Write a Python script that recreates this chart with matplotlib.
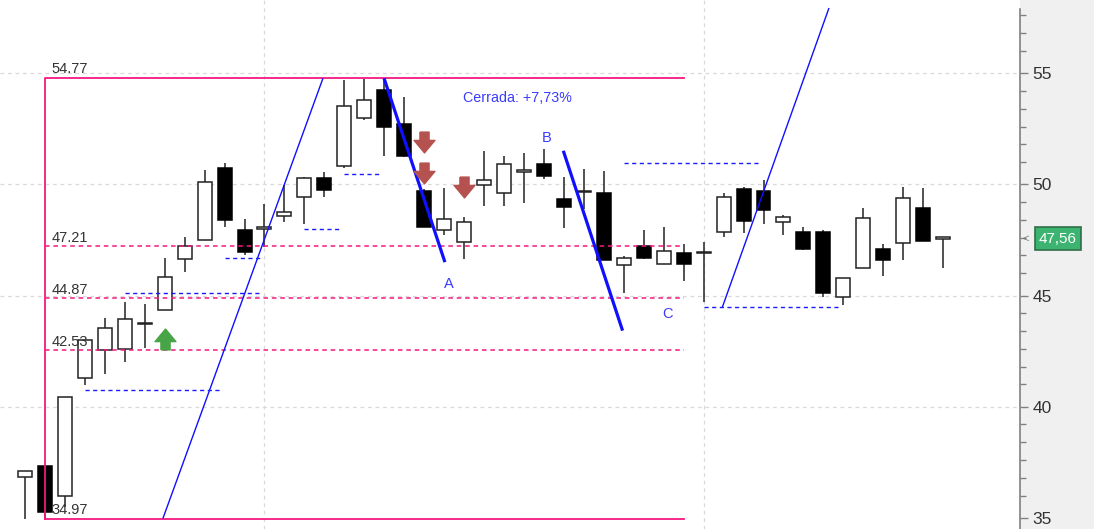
import numpy as np
import matplotlib
matplotlib.use('Agg')
import matplotlib.pyplot as plt
from matplotlib.path import Path
from matplotlib.transforms import blended_transform_factory

plt.rcParams['font.family'] = ['Liberation Sans', 'DejaVu Sans']

# candle data (index = trading day)
opens = [36.84, 37.34, 35.98, 41.30, 42.53, 42.60, 43.70, 44.33, 46.64, 47.50,
         50.72, 47.95, 47.98, 48.59, 49.44, 50.27, 50.83, 52.97, 54.24, 52.70,
         49.72, 47.95, 47.42, 49.96, 49.60, 50.57, 50.90, 49.34, 49.64, 49.60,
         46.37, 47.24, 46.42, 46.93, 46.90, 47.84, 49.78, 49.72, 48.29, 47.87,
         47.87, 44.95, 46.25, 47.07, 47.35, 48.92, 47.56]
highs = [37.11, 37.34, 40.45, 43.00, 43.97, 44.72, 44.60, 46.68, 47.63, 50.65,
         50.97, 48.43, 49.12, 49.97, 50.34, 50.57, 54.69, 54.72, 54.77, 53.94,
         49.80, 49.85, 48.54, 51.51, 51.28, 51.39, 51.58, 50.34, 50.68, 50.60,
         46.78, 47.95, 48.07, 47.32, 47.42, 49.60, 49.87, 50.20, 48.62, 48.09,
         47.95, 45.77, 48.92, 47.32, 49.89, 49.85, 47.56]
lows = [34.95, 34.97, 35.50, 40.97, 41.47, 42.02, 42.63, 44.33, 46.06, 47.50,
        48.07, 46.80, 47.17, 48.32, 48.22, 49.44, 50.72, 52.89, 51.29, 51.24,
        48.07, 47.72, 46.63, 49.03, 49.03, 49.15, 50.24, 48.02, 48.90, 46.60,
        45.13, 46.63, 46.42, 45.66, 44.69, 47.64, 47.83, 48.22, 47.72, 47.05,
        44.95, 44.57, 46.25, 45.88, 46.60, 47.47, 46.22]
closes = [37.11, 35.26, 40.45, 42.98, 43.52, 43.96, 43.72, 45.82, 47.23, 50.09,
          48.40, 46.97, 48.09, 48.74, 50.27, 49.75, 53.54, 53.79, 52.59, 51.29,
          48.07, 48.43, 48.29, 50.20, 50.90, 50.57, 50.39, 48.97, 49.64, 46.60,
          46.70, 46.67, 47.00, 46.42, 46.90, 49.44, 48.35, 48.85, 48.54, 47.09,
          45.10, 45.77, 48.47, 46.60, 49.40, 47.47, 47.56]

# range box (fibonacci style levels)
box_start, box_end = 1, 33
box_high, box_low = 54.77, 34.97
inner_levels = [47.21, 44.87, 42.53]
level_labels = ['54.77', '47.21', '44.87', '42.53', '34.97']

# trend lines: x pairs / y pairs
trend_x = [[6.91, 14.93], [17.99, 21.04], [26.97, 29.94], [34.94, 40.28]]
trend_y = [[34.97, 54.77], [54.77, 46.50], [51.51, 43.42], [44.48, 57.93]]
trend_w = [1.0, 2.3, 2.3, 1.0]

# dashed blue support/resistance segments
seg_x0 = [3, 5, 10, 14, 16, 30, 34]
seg_x1 = [9.8, 11.8, 11.85, 15.85, 17.85, 36.8, 40.85]
seg_y = [40.75, 45.13, 46.69, 47.98, 50.46, 50.97, 44.47]

# signals
sell_x = [20, 20, 22]
sell_y = [51.90, 50.51, 49.86]
buy_x = [7]
buy_y = [43.04]

wave_labels = ['A', 'B', 'C']
wave_x = [21.24, 26.15, 32.2]
wave_y = [45.54, 52.08, 44.16]

last_price = 47.56

fig = plt.figure(figsize=(10.94, 5.29), dpi=100)
fig.patch.set_facecolor('#f0f0f0')
ax = fig.add_axes([0, 0, 1020 / 1094, 1])
ax.set_facecolor('white')

# grid
for gy in [40, 45, 50, 55]:
    ax.axhline(gy, color='#d9d9d9', lw=0.9, dashes=(3, 3), zorder=0)
for gx in [12, 34]:
    ax.axvline(gx, color='#d9d9d9', lw=0.9, dashes=(3, 3), zorder=0)

# candles
x = np.arange(len(opens))
o = np.array(opens)
c = np.array(closes)
ax.vlines(x, lows, highs, color='#222222', lw=1.1, zorder=2)
up = c >= o
bottoms = np.minimum(o, c)
heights = np.maximum(np.abs(c - o), 0.07)
ax.bar(x[up], heights[up], bottom=bottoms[up], width=0.7, facecolor='white',
       edgecolor='#222222', linewidth=1.1, zorder=3)
ax.bar(x[~up], heights[~up], bottom=bottoms[~up], width=0.7, facecolor='black',
       edgecolor='black', linewidth=1.1, zorder=3)

# pink range box
pink = '#f5187f'
ax.plot([box_start, box_start, box_end], [box_low, box_high, box_high], color=pink, lw=1.3, zorder=4)
ax.plot([box_start, box_end], [box_low, box_low], color=pink, lw=1.3, zorder=4)
for lv in inner_levels:
    ax.plot([box_start, box_end], [lv, lv], color=pink, lw=1.1, dashes=(3, 2.5), zorder=4)
for lab, lv in zip(level_labels, [box_high] + inner_levels + [box_low]):
    ax.text(box_start + 0.33, lv + 0.08, lab, fontsize=10.5, color='#333333',
            ha='left', va='bottom', zorder=5)

# blue trend lines
for tx, ty, w in zip(trend_x, trend_y, trend_w):
    ax.plot(tx, ty, color='#1010ff', lw=w, zorder=6, clip_on=False,
            solid_capstyle='butt')

for x0, x1, yv in zip(seg_x0, seg_x1, seg_y):
    ax.plot([x0, x1], [yv, yv], color='#1a1aff', lw=1.0, dashes=(3, 2.5), zorder=6)

# arrows
down_arrow = Path([(-0.22, 0.5), (0.22, 0.5), (0.22, 0.1), (0.5, 0.1), (0, -0.5),
                   (-0.5, 0.1), (-0.22, 0.1), (-0.22, 0.5)])
up_arrow = Path([(vx, -vy) for vx, vy in down_arrow.vertices])
ax.plot(sell_x, sell_y, ls='none', marker=down_arrow, markersize=15,
        color='#b5524f', zorder=7)
ax.plot(buy_x, buy_y, ls='none', marker=up_arrow, markersize=15,
        color='#47a447', zorder=7)

for lab, wx, wy in zip(wave_labels, wave_x, wave_y):
    ax.text(wx, wy, lab, fontsize=10.5, color='#3a3aff', ha='center', va='center', zorder=7)
ax.text(24.65, 53.88, 'Cerrada: +7,73%', fontsize=10.3, color='#3a3aff',
        ha='center', va='center', zorder=7)

# right axis
for side in ['left', 'top', 'bottom']:
    ax.spines[side].set_visible(False)
ax.spines['right'].set_color('#808080')
ax.spines['right'].set_linewidth(1.2)
ax.spines['right'].set_bounds(34.5, 57.9)
ax.set_xticks([])
ax.yaxis.tick_right()
ax.set_yticks([35, 40, 45, 50, 55])
ax.set_yticks([m - 0.8 * k for m in range(35, 65, 5) for k in range(1, 6)], minor=True)
ax.tick_params(axis='y', which='major', length=6, width=1, color='#808080',
               labelsize=12.5, labelcolor='#333333', pad=3)
ax.tick_params(axis='y', which='minor', length=4, width=1, color='#808080')

# limits last, set_yticks would widen them otherwise
ax.set_xlim(-1.25, 49.85)
ax.set_ylim(34.50, 58.29)

# last price tag
tr = blended_transform_factory(fig.transFigure, ax.transData)
fig.text(1058 / 1094, last_price, '47,56', transform=tr, fontsize=11, color='white',
         ha='center', va='center',
         bbox=dict(boxstyle='square,pad=0.28', fc='#3cb371', ec='#2f6f4a', lw=1.2))
fig.text(1026 / 1094, last_price, '<', transform=tr, fontsize=8, color='#777777',
         ha='center', va='center')

fig.savefig('out.png', dpi=100, facecolor=fig.get_facecolor())
